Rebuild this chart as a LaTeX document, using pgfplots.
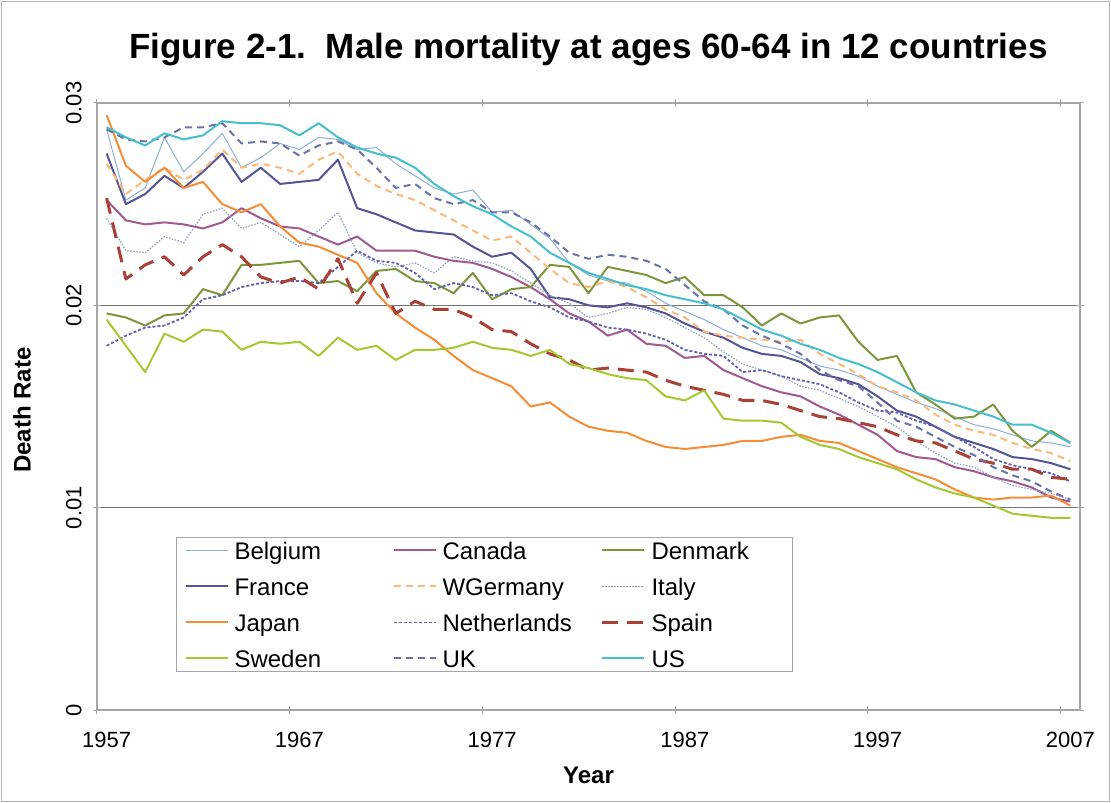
\documentclass[border=0pt]{standalone}
\usepackage{pgfplots}
\pgfplotsset{compat=1.18}
\usepackage{pgfplotstable}
\usepackage{fontspec}
\setmainfont{Liberation Sans}
\definecolor{cBel}{RGB}{140,175,215}
\definecolor{cCan}{RGB}{160,90,145}
\definecolor{cDen}{RGB}{125,150,60}
\definecolor{cFra}{RGB}{85,85,150}
\definecolor{cWGe}{RGB}{250,185,120}
\definecolor{cIta}{RGB}{140,160,200}
\definecolor{cJap}{RGB}{247,140,55}
\definecolor{cNet}{RGB}{95,95,180}
\definecolor{cSpa}{RGB}{170,65,55}
\definecolor{cSwe}{RGB}{165,200,50}
\definecolor{cUK}{RGB}{105,115,165}
\definecolor{cUS}{RGB}{70,190,205}
\pgfplotstableread{
year Bel Can Den Fra WGe Ita Jap Net Spa Swe UK US
1957 .0287 .0252 .0196 .0275 .0270 .0243 .0294 .0180 .0253 .0193 .0287 .0288
1958 .0252 .0242 .0194 .0250 .0255 .0227 .0269 .0185 .0213 .0180 .0282 .0283
1959 .0258 .0240 .0190 .0255 .0262 .0226 .0261 .0189 .0220 .0167 .0281 .0279
1960 .0283 .0241 .0195 .0264 .0268 .0234 .0268 .0190 .0224 .0186 .0283 .0285
1961 .0266 .0240 .0196 .0258 .0262 .0231 .0258 .0194 .0215 .0182 .0288 .0282
1962 .0275 .0238 .0208 .0266 .0267 .0245 .0261 .0203 .0224 .0188 .0288 .0284
1963 .0285 .0241 .0205 .0275 .0277 .0248 .0250 .0205 .0230 .0187 .0290 .0291
1964 .0268 .0248 .0220 .0261 .0268 .0238 .0246 .0209 .0224 .0178 .0280 .0290
1965 .0273 .0243 .0220 .0268 .0270 .0241 .0250 .0211 .0214 .0182 .0281 .0290
1966 .0280 .0239 .0221 .0260 .0268 .0235 .0239 .0212 .0211 .0181 .0280 .0289
1967 .0277 .0238 .0222 .0261 .0265 .0229 .0231 .0212 .0214 .0182 .0274 .0284
1968 .0283 .0234 .0211 .0262 .0272 .0237 .0229 .0211 .0208 .0175 .0279 .0290
1969 .0282 .0230 .0212 .0272 .0276 .0246 .0225 .0219 .0223 .0184 .0281 .0283
1970 .0277 .0234 .0207 .0248 .0265 .0226 .0221 .0227 .0201 .0178 .0277 .0278
1971 .0278 .0227 .0217 .0245 .0259 .0221 .0206 .0222 .0216 .0180 .0268 .0275
1972 .0270 .0227 .0218 .0241 .0255 .0219 .0196 .0221 .0196 .0173 .0258 .0273
1973 .0264 .0227 .0212 .0237 .0252 .0221 .0189 .0216 .0202 .0178 .0260 .0268
1974 .0258 .0224 .0211 .0236 .0247 .0216 .0183 .0208 .0198 .0178 .0253 .0260
1975 .0255 .0222 .0206 .0235 .0242 .0224 .0175 .0211 .0198 .0179 .0250 .0254
1976 .0257 .0221 .0216 .0229 .0237 .0222 .0168 .0209 .0194 .0182 .0252 .0249
1977 .0246 .0218 .0203 .0224 .0232 .0221 .0164 .0205 .0188 .0179 .0246 .0245
1978 .0247 .0214 .0208 .0226 .0234 .0217 .0160 .0206 .0187 .0178 .0246 .0239
1979 .0240 .0209 .0209 .0218 .0226 .0211 .0150 .0202 .0181 .0175 .0241 .0234
1980 .0233 .0203 .0220 .0204 .0218 .0205 .0152 .0199 .0176 .0178 .0234 .0226
1981 .0221 .0196 .0219 .0203 .0211 .0201 .0145 .0194 .0173 .0171 .0226 .0221
1982 .0215 .0192 .0206 .0200 .0209 .0194 .0140 .0192 .0168 .0169 .0223 .0216
1983 .0212 .0185 .0219 .0199 .0212 .0196 .0138 .0189 .0169 .0166 .0225 .0213
1984 .0211 .0188 .0217 .0201 .0209 .0199 .0137 .0188 .0168 .0164 .0224 .0210
1985 .0207 .0181 .0215 .0199 .0204 .0198 .0133 .0186 .0167 .0163 .0222 .0208
1986 .0201 .0180 .0211 .0196 .0198 .0194 .0130 .0183 .0163 .0155 .0218 .0205
1987 .0197 .0174 .0214 .0191 .0194 .0189 .0129 .0178 .0160 .0153 .0210 .0203
1988 .0193 .0175 .0205 .0187 .0187 .0184 .0130 .0176 .0158 .0158 .0202 .0201
1989 .0188 .0168 .0205 .0184 .0185 .0177 .0131 .0175 .0156 .0144 .0198 .0198
1990 .0184 .0164 .0199 .0179 .0184 .0171 .0133 .0167 .0153 .0143 .0190 .0193
1991 .0180 .0160 .0190 .0176 .0183 .0168 .0133 .0168 .0153 .0143 .0185 .0188
1992 .0178 .0157 .0196 .0175 .0182 .0165 .0135 .0165 .0151 .0142 .0181 .0185
1993 .0174 .0155 .0191 .0172 .0183 .0160 .0136 .0163 .0148 .0135 .0176 .0181
1994 .0170 .0150 .0194 .0166 .0176 .0158 .0133 .0161 .0145 .0131 .0168 .0178
1995 .0168 .0146 .0195 .0164 .0171 .0154 .0132 .0157 .0144 .0129 .0163 .0174
1996 .0165 .0141 .0182 .0161 .0166 .0150 .0128 .0152 .0142 .0125 .0160 .0171
1997 .0160 .0136 .0173 .0155 .0160 .0145 .0124 .0148 .0140 .0122 .0152 .0167
1998 .0156 .0128 .0175 .0148 .0157 .0140 .0120 .0147 .0136 .0119 .0143 .0162
1999 .0152 .0125 .0157 .0145 .0153 .0133 .0117 .0143 .0133 .0114 .0140 .0157
2000 .0149 .0124 .0151 .0140 .0146 .0127 .0114 .0140 .0132 .0110 .0135 .0153
2001 .0145 .0120 .0144 .0135 .0141 .0122 .0109 .0135 .0128 .0107 .0130 .0151
2002 .0141 .0118 .0145 .0132 .0138 .0120 .0105 .0130 .0124 .0105 .0126 .0148
2003 .0139 .0115 .0151 .0129 .0136 .0115 .0104 .0124 .0122 .0101 .0120 .0145
2004 .0136 .0113 .0138 .0125 .0132 .0111 .0105 .0121 .0119 .0097 .0116 .0141
2005 .0133 .0110 .0130 .0124 .0129 .0109 .0105 .0119 .0119 .0096 .0113 .0141
2006 .0132 .0105 .0138 .0122 .0127 .0107 .0106 .0117 .0115 .0095 .0108 .0137
2007 .0130 .0103 .0132 .0119 .0123 .0104 .0101 .0113 .0114 .0095 .0104 .0132
}\datatable
\newcommand\LA[1]{\hspace{6pt}\makebox[158pt][l]{#1}}
\newcommand\LB[1]{\hspace{6pt}\makebox[133pt][l]{#1}}
\begin{document}
\begin{tikzpicture}
\begin{axis}[
  at={(0pt,0pt)}, anchor=south west,
  width=983pt, height=607pt, scale only axis,
  xmin=1956.5, xmax=2007.5, ymin=0, ymax=0.03,
  scaled y ticks=false,
  xtick={1957,1967,1977,1987,1997,2007},
  xticklabels={1957,1967,1977,1987,1997,2007},
  major x tick style={draw=none},
  minor xtick={1956.5,1966.5,1976.5,1986.5,1996.5,2006.5},
  minor tick length=8pt,
  ytick={0,0.01,0.02,0.03},
  yticklabels={0,0.01,0.02,0.03},
  major tick length=8pt,
  tick align=center,
  tick style={draw=gray!70, line width=1pt},
  ymajorgrids,
  grid style={draw=black!55, line width=1pt},
  axis line style={draw=gray!70, line width=1.2pt},
  xticklabel style={font=\fontsize{22}{26}\selectfont, yshift=-15pt},
  yticklabel style={font=\fontsize{22}{26}\selectfont, rotate=90, anchor=south, yshift=8pt},
  xlabel={Year},
  ylabel={Death Rate},
  xlabel style={font=\bfseries\fontsize{24}{28}\selectfont, at={(axis description cs:0.5,-0.107)}, anchor=center},
  ylabel style={font=\bfseries\fontsize{24}{28}\selectfont, at={(axis description cs:-0.0763,0.494)}, anchor=center},
  title={Figure 2-1.\ \ Male mortality at ages 60-64 in 12 countries},
  title style={font=\bfseries\fontsize{35}{40}\selectfont, at={(axis description cs:0.5,1.0774)}, anchor=center},
  legend columns=3,
  legend cell align=left,
  legend style={
    at={(axis description cs:0.0804,0.0626)}, anchor=south west,
    draw=gray!70, line width=1pt, fill=white,
    inner xsep=8pt, inner ysep=3pt,
    row sep=16pt, column sep=0pt,
    nodes={inner sep=0pt, text height=18.6pt, text depth=1.4pt, font=\fontsize{24}{28}\selectfont},
  },
  legend image code/.code={\draw[#1] (0pt,0pt) -- (42pt,0pt);},
  every axis plot/.append style={line join=round},
]
\addplot[cBel, line width=1pt] table[x=year,y=Bel] {\datatable};
\addlegendentry{\LA{Belgium}}
\addplot[cCan, line width=2pt] table[x=year,y=Can] {\datatable};
\addlegendentry{\LA{Canada}}
\addplot[cDen, line width=2pt] table[x=year,y=Den] {\datatable};
\addlegendentry{\LB{Denmark}}
\addplot[cFra, line width=2pt] table[x=year,y=Fra] {\datatable};
\addlegendentry{\LA{France}}
\addplot[cWGe, line width=2pt, dash pattern=on 7pt off 5pt] table[x=year,y=WGe] {\datatable};
\addlegendentry{\LA{WGermany}}
\addplot[cIta, line width=1.2pt, dash pattern=on 1.5pt off 1.5pt] table[x=year,y=Ita] {\datatable};
\addlegendentry{\LB{Italy}}
\addplot[cJap, line width=2pt] table[x=year,y=Jap] {\datatable};
\addlegendentry{\LA{Japan}}
\addplot[cNet, line width=1.8pt, dash pattern=on 3pt off 2pt] table[x=year,y=Net] {\datatable};
\addlegendentry{\LA{Netherlands}}
\addplot[cSpa, line width=3pt, dash pattern=on 16pt off 9pt] table[x=year,y=Spa] {\datatable};
\addlegendentry{\LB{Spain}}
\addplot[cSwe, line width=2pt] table[x=year,y=Swe] {\datatable};
\addlegendentry{\LA{Sweden}}
\addplot[cUK, line width=2pt, dash pattern=on 7pt off 5pt] table[x=year,y=UK] {\datatable};
\addlegendentry{\LA{UK}}
\addplot[cUS, line width=2pt] table[x=year,y=US] {\datatable};
\addlegendentry{\LB{US}}
\end{axis}
\draw[gray!60, line width=1.2pt] (-95.5pt,-91.5pt) rectangle (1012.5pt,708.5pt);
\pgfresetboundingbox
\useasboundingbox (-97pt,-93pt) rectangle (1014pt,710pt);
\end{tikzpicture}
\end{document}
